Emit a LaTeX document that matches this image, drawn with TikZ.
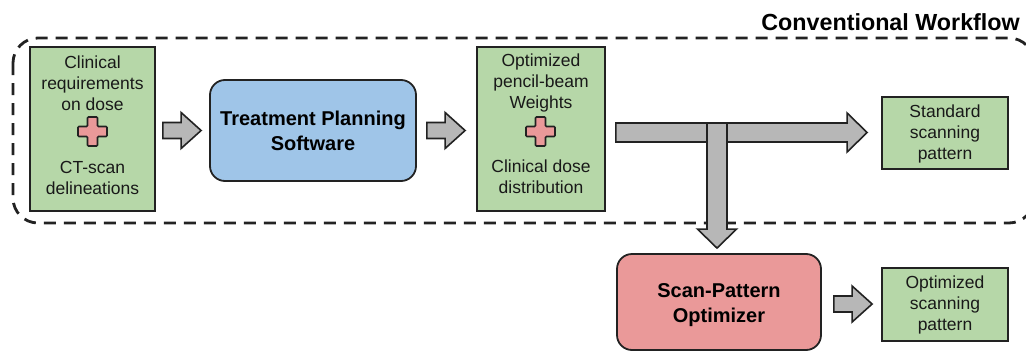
\documentclass[tikz,border=0pt]{standalone}
\usepackage{fontspec}
\setmainfont{Liberation Sans}
\usetikzlibrary{calc}
\definecolor{boxgreen}{HTML}{B6D7A8}
\definecolor{boxblue}{HTML}{9FC5E8}
\definecolor{boxred}{HTML}{EA9999}
\definecolor{arrgray}{HTML}{B7B7B7}
\definecolor{edge}{HTML}{222222}
\tikzset{
  gbox/.style={draw=edge, line width=1.8pt, fill=boxgreen, inner sep=0pt},
  procbox/.style={draw=edge, line width=1.8pt, rounded corners=15pt, inner sep=0pt, font=\fontsize{20}{25}\selectfont\bfseries, align=center},
  boldtxt/.style={align=center, inner sep=0pt, font=\fontsize{20}{25}\selectfont\bfseries},
  txt/.style={align=center, inner sep=0pt, font=\fontsize{17.5}{21}\selectfont, text=black!90},
  blockarr/.style={draw=edge, line width=1.6pt, fill=arrgray, line join=miter},
  plussign/.style={draw=edge, line width=1.6pt, fill=boxred, rounded corners=1pt},
}
\newcommand\plusat[1]{%
  \path[plussign] let \p1=(#1) in
    (\x1-5pt,\y1+14.5pt) -- (\x1+5pt,\y1+14.5pt) -- (\x1+5pt,\y1+5pt) -- (\x1+14.5pt,\y1+5pt)
    -- (\x1+14.5pt,\y1-5pt) -- (\x1+5pt,\y1-5pt) -- (\x1+5pt,\y1-14.5pt) -- (\x1-5pt,\y1-14.5pt)
    -- (\x1-5pt,\y1-5pt) -- (\x1-14.5pt,\y1-5pt) -- (\x1-14.5pt,\y1+5pt) -- (\x1-5pt,\y1+5pt) -- cycle;}
% horizontal block arrow: #1 tail coordinate, #2 tip coordinate (same height)
\newcommand\harrow[2]{%
  \path[blockarr] let \p1=(#1), \p2=(#2) in
    (\x1,\y1+8pt) -- (\x2-20pt,\y1+8pt) -- (\x2-20pt,\y1+18pt) -- (\x2,\y1)
    -- (\x2-20pt,\y1-18pt) -- (\x2-20pt,\y1-8pt) -- (\x1,\y1-8pt) -- cycle;}
\begin{document}
\begin{tikzpicture}[x=1pt,y=-1pt]
\useasboundingbox (0,0) rectangle (1026,351);
\clip (0,0) rectangle (1026,351);
% dashed frame
\draw[edge, line width=2.8pt, dash pattern=on 12pt off 8pt, rounded corners=25pt] (13,38) rectangle (1034,223);
\node[anchor=east, inner sep=0pt, font=\fontsize{23.3}{27}\selectfont\bfseries] (title) at (1020,22) {Conventional Workflow};
% boxes
\node[gbox, minimum width=125pt, minimum height=164pt] (b1) at (92.5,129) {};
\node[procbox, fill=boxblue, minimum width=206pt, minimum height=101pt] (tps) at (313,130.5) {Treatment Planning\\Software};
\node[gbox, minimum width=128pt, minimum height=164pt] (b2) at (541,129) {};
\node[gbox, minimum width=126pt, minimum height=72pt] (std) at (945,133) {};
\node[procbox, fill=boxred, minimum width=204pt, minimum height=96pt] (spo) at (719,302) {};
\node[boldtxt] (spot) at (719,305) {Scan-Pattern\\Optimizer};
\node[gbox, minimum width=126pt, minimum height=73pt] (opt) at (945,304.5) {};
% texts
\node[txt] (b1a) at (92.5,83) {Clinical\\requirements\\on dose};
\coordinate (p1) at (92.5,131.5);
\node[txt] (b1b) at (92.5,177.5) {CT-scan\\delineations};
\node[txt] (b2a) at (541,83) {Optimized\\pencil-beam\\Weights};
\coordinate (p2) at (540.5,131.5);
\node[txt] (b2b) at (541,176.5) {Clinical dose\\distribution};
\node[txt] (stdt) at (945,133.5) {Standard\\scanning\\pattern};
\node[txt] (optt) at (945,305) {Optimized\\scanning\\pattern};
\plusat{p1}
\plusat{p2}
% arrows
\harrow{$(b1.east)+(7,1.5)$}{$(tps.west)+(-8,0.5)$}
\harrow{$(tps.east)+(10,0)$}{$(b2.west)+(-11,1.5)$}
\harrow{$(spo.east)+(12,2)$}{$(opt.west)+(-9,0)$}
% T arrow
\coordinate (tl) at ($(b2.east)+(10,3.5)$);
\coordinate (tr) at ($(std.west)+(-14,-0.5)$);
\coordinate (tb) at ($(spo.north)+(-2,-5)$);
\path[blockarr] let \p1=(tl), \p2=(tr), \p3=(tb) in
  (\x1,\y1+9.5pt) -- (\x2-20pt,\y1+9.5pt) -- (\x2-20pt,\y1+19.5pt) -- (\x2,\y1)
  -- (\x2-20pt,\y1-19.5pt) -- (\x2-20pt,\y1-9.5pt) -- (\x3+10pt,\y1-9.5pt)
  -- (\x3+10pt,\y3+19pt) -- (\x3+19.5pt,\y3+19pt) -- (\x3,\y3) -- (\x3-19.5pt,\y3+19pt)
  -- (\x3-10pt,\y3+19pt) -- (\x3-10pt,\y1-9.5pt) -- (\x1,\y1-9.5pt) -- cycle;
\path[draw=edge, line width=1.6pt] let \p1=(tl), \p3=(tb) in
  (\x3-10pt,\y1+9.5pt) -- (\x3-10pt,\y1-9.5pt) (\x3+10pt,\y1+9.5pt) -- (\x3+10pt,\y1-9.5pt);
\end{tikzpicture}
\end{document}
